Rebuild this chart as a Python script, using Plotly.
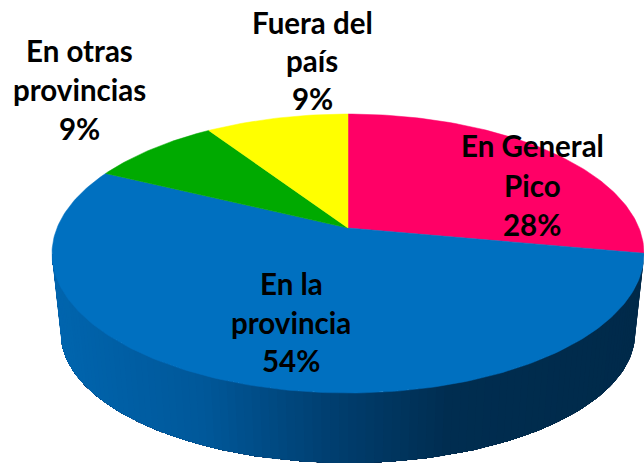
import math
import plotly.graph_objects as go

# Data, clockwise from 12 o'clock
categories = ["En General Pico", "En la provincia", "En otras provincias", "Fuera del país"]
values = [27.9, 54.3, 8.5, 9.3]
slice_colors = ["#FF0066", "#0070C0", "#00AA00", "#FFFF00"]
label_lines = [["En General", "Pico", "28%"], ["En la", "provincia", "54%"],
               ["En otras", "provincias", "9%"], ["Fuera del", "país", "9%"]]
label_x = [532, 291, 79, 312]
label_y = [[145, 185, 224], [283, 322, 360], [50, 89, 128], [22, 60, 98]]

# Perspective disc placed on pixel-like axes
CX, CY, K, A, C = 348.0, 228.0, 291.0, 93.1, 0.183


def rim(t):
    den = 1 + C * math.sin(t)
    return CX + K * math.cos(t) / den, (CY - A * math.sin(t)) / den


def lower(t):
    x, y = rim(t)
    return CX + 0.97 * (x - CX), 0.93 * y + 97.5


ramp = [(51, (0, 101, 174)), (200, (0, 88, 154)), (322, (0, 64, 114)),
        (450, (0, 45, 80)), (644, (0, 42, 74))]


def wall_color(x):
    for (x0, c0), (x1, c1) in zip(ramp, ramp[1:]):
        if x <= x1:
            f = max(0.0, (x - x0) / (x1 - x0))
            return "rgb(%d,%d,%d)" % tuple(round(a + (b - a) * f) for a, b in zip(c0, c1))
    return "rgb(%d,%d,%d)" % ramp[-1][1]


fig = go.Figure()
total = sum(values)

# Side wall: painted right to left, each band reaching the far end so no seams show
STRIPS = 110
t_start = math.radians(-10.5)
t_end = math.radians(-169.5)
ts = [t_start + (t_end - t_start) * i / STRIPS for i in range(STRIPS + 1)]
for i in range(STRIPS):
    part = ts[i:]
    p = [rim(t) for t in part] + [lower(t) for t in reversed(part)]
    p.append(p[0])
    col = wall_color((rim(ts[i])[0] + rim(ts[i + 1])[0]) / 2)
    fig.add_trace(go.Scatter(x=[q[0] for q in p], y=[q[1] for q in p], mode="lines",
                             fill="toself", fillcolor=col, line=dict(width=0),
                             hoverinfo="skip", showlegend=False))

# Top face: one wedge per value
start = 90.0
for name, v, col in zip(categories, values, slice_colors):
    sweep = v / total * 360.0
    n = max(12, int(sweep))
    pts = [(CX, CY)]
    for j in range(n + 1):
        pts.append(rim(math.radians(start - sweep * j / n)))
    pts.append((CX, CY))
    fig.add_trace(go.Scatter(x=[q[0] for q in pts], y=[q[1] for q in pts], mode="lines",
                             fill="toself", fillcolor=col, line=dict(color=col, width=0.5),
                             name=name, hoverinfo="name", showlegend=False))
    start -= sweep

# Labels
for lines, lx, lys in zip(label_lines, label_x, label_y):
    for text, ly in zip(lines, lys):
        fig.add_annotation(x=lx, y=ly, text="<b>%s</b>" % text, showarrow=False,
                           xanchor="center", yanchor="middle",
                           font=dict(family="Lato", size=29.5, color="#000000"))

fig.update_layout(width=644, height=463, margin=dict(l=0, r=0, t=0, b=0),
                  paper_bgcolor="white", plot_bgcolor="white", showlegend=False,
                  xaxis=dict(range=[0, 644], visible=False, fixedrange=True),
                  yaxis=dict(range=[463, 0], visible=False, fixedrange=True))
fig.write_html("out.html", config={"displayModeBar": False},
               post_script="document.body.style.margin='0';document.body.style.overflow='hidden';")
